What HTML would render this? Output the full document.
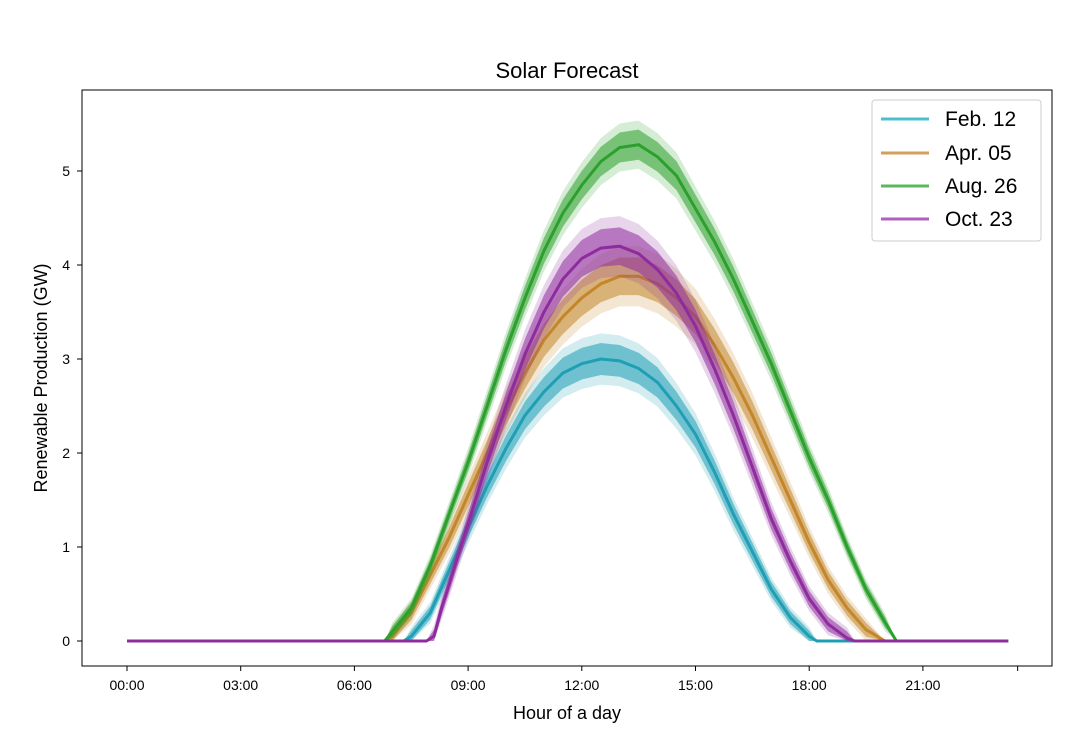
<!DOCTYPE html>
<html><head><meta charset="utf-8"><style>
body{margin:0;background:#fff;}
svg{display:block;font-family:"Liberation Sans","DejaVu Sans",sans-serif;}
</style></head><body>
<svg id="chart" width="1076" height="750">
<rect width="1076" height="750" fill="#fff"/>
<text x="567" y="78" text-anchor="middle" font-size="22">Solar Forecast</text>
<g id="plot"></g>
<rect x="82" y="90" width="970" height="576" fill="none" stroke="#000" stroke-width="1"/>
<g id="xticks"></g>
<g id="yticks"></g>
<text x="567" y="719" text-anchor="middle" font-size="18">Hour of a day</text>
<text transform="translate(47,378) rotate(-90)" text-anchor="middle" font-size="18">Renewable Production (GW)</text>
<g>
<rect x="872" y="100" width="169" height="141" rx="3" fill="#fff" fill-opacity="0.85" stroke="#ccc"/>
<g><line x1="881" y1="119" x2="929" y2="119" stroke="#4bbfcf" stroke-width="3"/><text x="945" y="126" font-size="21">Feb. 12</text></g>
<g><line x1="881" y1="153" x2="929" y2="153" stroke="#d2a05a" stroke-width="3"/><text x="945" y="160" font-size="21">Apr. 05</text></g>
<g><line x1="881" y1="186" x2="929" y2="186" stroke="#5cb85c" stroke-width="3"/><text x="945" y="193" font-size="21">Aug. 26</text></g>
<g><line x1="881" y1="219" x2="929" y2="219" stroke="#b060c0" stroke-width="3"/><text x="945" y="226" font-size="21">Oct. 23</text></g>
</g>
</svg>
<script>
const xTickLabels=["00:00","03:00","06:00","09:00","12:00","15:00","18:00","21:00",""];
const xTickHours=[0,3,6,9,12,15,18,21,23.5];
const yTicks=[0,1,2,3,4,5];
const febT=[0,7.3,7.5,8,8.5,9,9.5,10,10.5,11,11.5,12,12.5,13,13.5,14,14.5,15,15.5,16,16.5,17,17.5,18,18.2,23.25];
const febV=[0,0,0.05,0.3,0.75,1.2,1.65,2.05,2.4,2.65,2.85,2.95,3.0,2.98,2.9,2.75,2.5,2.2,1.8,1.35,0.95,0.55,0.25,0.05,0,0];
const aprT=[0,6.8,7,7.5,8,8.5,9,9.5,10,10.5,11,11.5,12,12.5,13,13.5,14,14.5,15,15.5,16,16.5,17,17.5,18,18.5,19,19.5,20,23.25];
const aprV=[0,0,0.05,0.3,0.7,1.1,1.55,2.0,2.45,2.85,3.2,3.45,3.65,3.8,3.88,3.88,3.8,3.65,3.45,3.15,2.8,2.4,1.95,1.5,1.05,0.65,0.35,0.12,0,0];
const augT=[0,6.8,7,7.5,8,8.5,9,9.5,10,10.5,11,11.5,12,12.5,13,13.5,14,14.5,15,15.5,16,16.5,17,17.5,18,18.5,19,19.5,20,20.3,23.25];
const augV=[0,0,0.1,0.35,0.8,1.35,1.9,2.5,3.1,3.65,4.15,4.55,4.85,5.1,5.25,5.28,5.15,4.95,4.6,4.25,3.85,3.4,2.95,2.45,1.95,1.5,1.0,0.55,0.2,0,0];
const octT=[0,7.9,8.1,8.3,8.5,9,9.5,10,10.5,11,11.5,12,12.5,13,13.5,14,14.5,15,15.5,16,16.5,17,17.5,18,18.5,19,19.2,23.25];
const octV=[0,0,0.05,0.35,0.6,1.25,1.9,2.5,3.05,3.5,3.85,4.07,4.18,4.2,4.12,3.95,3.7,3.35,2.9,2.4,1.85,1.3,0.85,0.45,0.18,0.03,0,0];
const seriesSpread=[0.17,0.2,0.16,0.2];
const seriesColors=["#1f9fb4","#c3862a","#2ca02c","#8e2c9e"];
const seriesNames=["feb-12","apr-05","aug-26","oct-23"];

const NS="http://www.w3.org/2000/svg";
const xS=h=>127+h*(113.7/3);
const yS=v=>641-v*94;
const plot=document.getElementById('plot');
const xg=document.getElementById('xticks'), yg=document.getElementById('yticks');
xTickHours.forEach((h,i)=>{
  const l=document.createElementNS(NS,'line');
  
  
  l.setAttribute('x1',xS(h));l.setAttribute('x2',xS(h));l.setAttribute('y1',666);l.setAttribute('y2',671);l.setAttribute('stroke','#000');
  xg.appendChild(l);
  const t=document.createElementNS(NS,'text');
  
  
  t.setAttribute('x',xS(h));t.setAttribute('y',690);t.setAttribute('text-anchor','middle');t.setAttribute('font-size','14');
  t.textContent=xTickLabels[i];xg.appendChild(t);
});
yTicks.forEach(v=>{
  const l=document.createElementNS(NS,'line');
  
  
  l.setAttribute('x1',77);l.setAttribute('x2',82);l.setAttribute('y1',yS(v));l.setAttribute('y2',yS(v));l.setAttribute('stroke','#000');
  yg.appendChild(l);
  const t=document.createElementNS(NS,'text');
  
  
  t.setAttribute('x',70);t.setAttribute('y',yS(v)+5);t.setAttribute('text-anchor','end');t.setAttribute('font-size','14');
  t.textContent=v;yg.appendChild(t);
});
const allT=[febT,aprT,augT,octT], allV=[febV,aprV,augV,octV];
allT.forEach((T,si)=>{
  const V=allV[si], peak=Math.max(...V), s=seriesSpread[si];
  [[1.6,0.2],[1,0.55]].forEach(([k,op])=>{
    let up=[],lo=[];
    T.forEach((t,i)=>{
      const w=V[i]>0?s*k*(0.35+0.65*V[i]/peak):0;
      up.push(xS(t).toFixed(1)+','+yS(V[i]+w).toFixed(1));
      lo.unshift(xS(t).toFixed(1)+','+yS(Math.max(0,V[i]-w)).toFixed(1));
    });
    const p=document.createElementNS(NS,'polygon');
    
    
    p.setAttribute('points',up.concat(lo).join(' '));
    p.setAttribute('fill',seriesColors[si]);p.setAttribute('fill-opacity',op);
    plot.appendChild(p);
  });
  const pl=document.createElementNS(NS,'polyline');
  
  
  pl.setAttribute('points',T.map((t,i)=>xS(t).toFixed(1)+','+yS(V[i]).toFixed(1)).join(' '));
  pl.setAttribute('fill','none');pl.setAttribute('stroke',seriesColors[si]);pl.setAttribute('stroke-width','3');
  plot.appendChild(pl);
});
</script>
</body></html>
